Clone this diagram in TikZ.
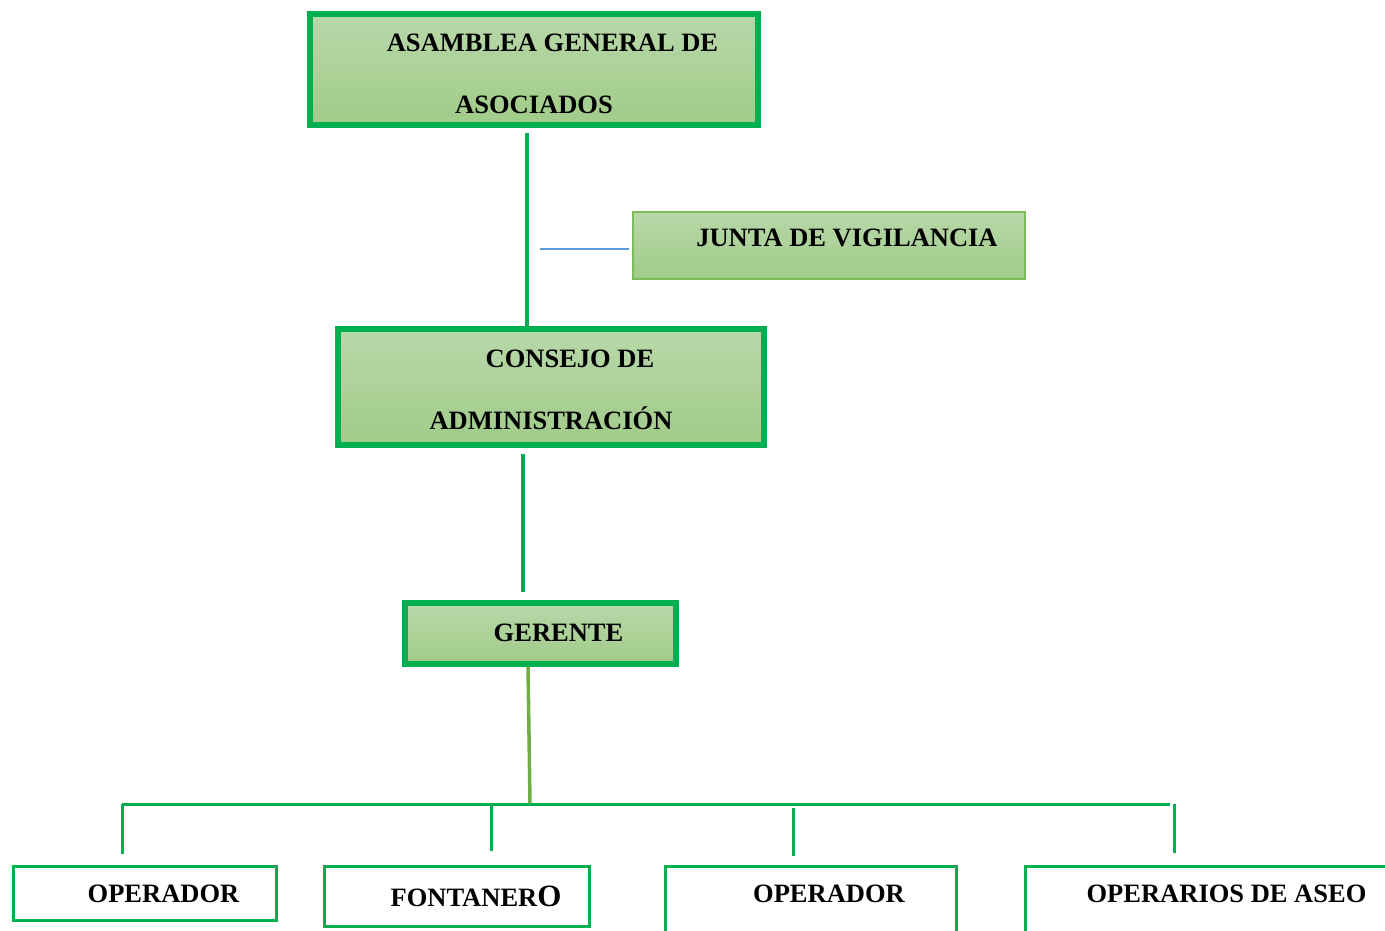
\documentclass[tikz,border=0pt]{standalone}
\usepackage{fontspec}
\setmainfont{Liberation Serif}
\definecolor{verdeBorde}{HTML}{00B050}
\definecolor{verdeClaro}{HTML}{7CBB5A}
\definecolor{verdeOliva}{HTML}{70AD47}
\definecolor{rellenoArriba}{HTML}{B8D8A9}
\definecolor{rellenoAbajo}{HTML}{A0CB89}
\definecolor{azulLinea}{HTML}{5B9BD5}

\begin{document}
\begin{tikzpicture}[x=1pt,y=-1pt,
  cargo/.style={draw=verdeBorde,line width=6pt,top color=rellenoArriba,bottom color=rellenoAbajo,inner sep=0pt},
  junta/.style={draw=verdeClaro,line width=1.5pt,top color=rellenoArriba,bottom color=rellenoAbajo,inner sep=0pt},
  puesto/.style={draw=verdeBorde,line width=3.5pt,fill=white,inner sep=0pt},
  txt/.style={font=\fontsize{26.5}{30}\selectfont\bfseries,anchor=base,inner sep=0pt},
  enlace/.style={draw=verdeBorde,line width=4pt},
  rama/.style={draw=verdeBorde,line width=3pt}]
  \useasboundingbox (0,0) rectangle (1385,930);
  \clip (0,0) rectangle (1385,930);
  % cajas
  \node[cargo,minimum width=448,minimum height=111] (asamblea) at (534,69.5) {};
  \node[junta,minimum width=392,minimum height=67] (vigilancia) at (829,245.5) {};
  \node[cargo,minimum width=426,minimum height=116] (consejo) at (551,387) {};
  \node[cargo,minimum width=271,minimum height=61] (gerente) at (540,633) {};
  \node[puesto,minimum width=263,minimum height=54] (op1) at (145,893.5) {};
  \node[puesto,minimum width=265,minimum height=60] (fontanero) at (457,896.5) {};
  \node[puesto,minimum width=291,minimum height=73.5] (op2) at (811,903.25) {};
  \node[puesto,minimum width=394.5,minimum height=73.5] (aseo) at (1222.75,903.25) {};
  % textos
  \node[txt] (asamblea-a) at (552.5,51) {ASAMBLEA GENERAL DE};
  \node[txt] (asamblea-b) at (534,113) {ASOCIADOS};
  \node[txt] (vigilancia-t) at (847,246) {JUNTA DE VIGILANCIA};
  \node[txt] (consejo-a) at (570,367) {CONSEJO DE};
  \node[txt] (consejo-b) at (551,429) {ADMINISTRACIÓN};
  \node[txt] (gerente-t) at (558.5,641) {GERENTE};
  \node[txt] (op1-t) at (163.5,902) {OPERADOR};
  \node[txt] (fontanero-t) at (476,906) {FONTANER{\fontsize{31}{34}\selectfont O}};
  \node[txt] (op2-t) at (829,902) {OPERADOR};
  \node[txt] (aseo-t) at (1226.5,902) {OPERARIOS DE ASEO};
  % lineas
  \coordinate (eje1) at (527,0);
  \coordinate (eje2) at (523,0);
  \coordinate (eje3) at (528,0);
  \coordinate (j0) at (540,249);
  \coordinate (bus) at (530,803);
  \coordinate (busL) at (122,804);
  \coordinate (busR) at (1170,804);
  \draw[enlace,shorten <=5pt] (asamblea.south -| eje1) -- (consejo.north -| eje1);
  \draw[azulLinea,line width=1.4pt,shorten >=3pt] (j0) -- (j0 -| vigilancia.west);
  \draw[enlace,line width=3.5pt,shorten <=6pt,shorten >=8pt] (consejo.south -| eje2) -- (gerente.north -| eje2);
  \draw[verdeOliva,line width=3.5pt] (gerente.south -| eje3) -- (bus);
  \draw[rama] (busL) -- (busR);
  \draw[rama,shorten >=11pt] (busL) -- (busL |- op1.north);
  \draw[rama,shorten >=14pt] (491,804) coordinate (d2) -- (d2 |- fontanero.north);
  \draw[rama,shorten <=4pt,shorten >=9pt] (793,804) coordinate (d3) -- (d3 |- op2.north);
  \draw[rama,shorten >=12pt] (1174,804) coordinate (d4) -- (d4 |- aseo.north);
\end{tikzpicture}
\end{document}
